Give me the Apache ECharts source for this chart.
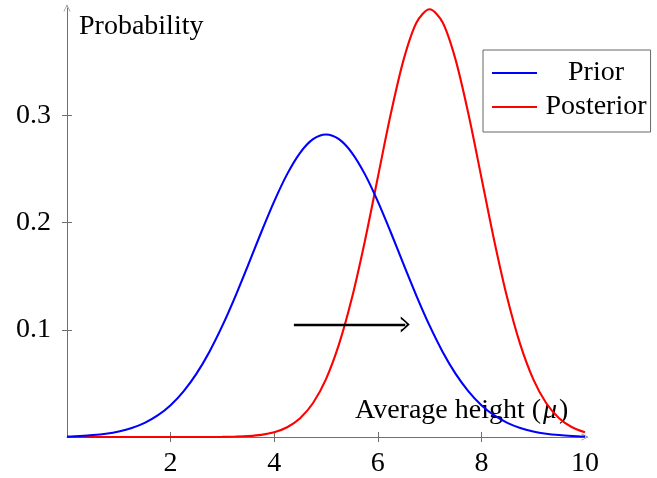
<!DOCTYPE html>
<html>
<head>
<meta charset="utf-8">
<script src="https://cdn.jsdelivr.net/npm/echarts@6/dist/echarts.min.js"></script>
<style>html,body{margin:0;padding:0;background:#fff}#c{width:657px;height:478px}</style>
</head>
<body>
<div id="c"></div>
<script>
// x positions (average height mu)
var xs = [0,0.25,0.5,0.75,1,1.25,1.5,1.75,2,2.25,2.5,2.75,3,3.25,3.5,3.75,4,4.25,4.5,4.75,5,
          5.25,5.5,5.75,6,6.25,6.5,6.75,7,7.25,7.5,7.75,8,8.25,8.5,8.75,9,9.25,9.5,9.75,10];
// Prior curve values
var prior = [0.0005,0.0010,0.0018,0.0031,0.0052,0.0084,0.0132,0.0201,0.0297,0.0426,0.0591,0.0796,0.1038,0.1312,0.1607,0.1909,0.2197,0.2451,0.2650,0.2777,0.2821,
             0.2777,0.2650,0.2451,0.2197,0.1909,0.1607,0.1312,0.1038,0.0796,0.0591,0.0426,0.0297,0.0201,0.0132,0.0084,0.0052,0.0031,0.0018,0.0010,0.0005];
// Posterior curve values
var posterior = [0,0,0,0,0,0,0,0,0,0,0,0.0000,0.0001,0.0004,0.0009,0.0020,0.0044,0.0091,0.0175,0.0317,0.0540,
                 0.0863,0.1295,0.1826,0.2420,0.3011,0.3521,0.3867,0.3989,0.3867,0.3521,0.3011,0.2420,0.1826,0.1295,0.0863,0.0540,0.0317,0.0175,0.0091,0.0044];
var seriesNames = ['Prior','Posterior'];
var xTicks = [2,4,6,8,10];
var yTicks = [0.1,0.2,0.3];
// shift arrow (start and end)
var arrowFrom = [4.38,0.105];
var arrowTo = [6.53,0.105];

function pairs(v){ return xs.map(function(x,i){ return [x, v[i]]; }); }

var FONT = 'Liberation Serif, Times New Roman, serif';
var AX = '#707070';
var chev = 'path://M0,10 C2,6 4,2 5,0 C6,2 8,6 10,10 L9,10 C8,7 6,4 5,2.2 C4,4 2,7 1,10 Z';
var chevBold = 'path://M0,10 C2,6 4,2 5,0 C6,2 8,6 10,10 L8.4,10 C7.5,7 6,4.5 5,3.2 C4,4.5 2.5,7 1.6,10 Z';

var chart = echarts.init(document.getElementById('c'), null, {renderer:'canvas'});
chart.setOption({
  animation:false,
  grid:{left:67,right:72,top:8,bottom:40},
  xAxis:[{
    type:'value',min:0,max:10,interval:2,
    axisLine:{show:true,lineStyle:{color:AX,width:1},symbol:['none',chev],symbolSize:[9,7]},
    axisTick:{show:true,length:5,lineStyle:{color:AX},customValues:[2,4,6,8]},
    axisLabel:{customValues:xTicks,margin:13,color:'#000',fontFamily:FONT,fontSize:28},
    splitLine:{show:false}
  },{
    type:'value',min:0,max:10,interval:2,position:'bottom',
    axisLine:{show:false},
    axisTick:{show:true,inside:true,length:5,lineStyle:{color:AX},customValues:[2,4,6,8]},
    axisLabel:{show:false},splitLine:{show:false}
  }],
  yAxis:[{
    type:'value',min:0,max:0.4,interval:0.1,
    axisLine:{show:true,lineStyle:{color:AX,width:1},symbol:['none',chev],symbolSize:[9,7]},
    axisTick:{show:true,length:5,lineStyle:{color:AX},customValues:[0.1,0.2,0.3]},
    axisLabel:{customValues:yTicks,margin:16,color:'#000',fontFamily:FONT,fontSize:28,
      formatter:function(v){return v.toFixed(1);}},
    splitLine:{show:false}
  },{
    type:'value',min:0,max:0.4,interval:0.1,position:'left',
    axisLine:{show:false},
    axisTick:{show:true,inside:true,length:5,lineStyle:{color:AX},customValues:[0.1,0.2,0.3]},
    axisLabel:{show:false},splitLine:{show:false}
  }],
  legend:{
    orient:'vertical',left:483,top:50,
    data:seriesNames.map(function(n){return {name:n,icon:'rect'};}),
    borderColor:'#666',borderWidth:1,borderRadius:0,
    padding:[9,4,11,9],itemGap:6,itemWidth:45,itemHeight:2,
    formatter:function(n){return '{t|'+n+'}';},
    textStyle:{rich:{t:{width:108,align:'center',fontFamily:FONT,fontSize:28,color:'#000'}}}
  },
  series:[{
    name:seriesNames[0],type:'line',data:pairs(prior),smooth:0.3,symbol:'none',
    lineStyle:{color:'#0000ff',width:2.1},itemStyle:{color:'#0000ff'},z:3
  },{
    name:seriesNames[1],type:'line',data:pairs(posterior),smooth:0.3,symbol:'none',
    lineStyle:{color:'#ff0000',width:2.1},itemStyle:{color:'#ff0000'},z:2,
    markLine:{
      silent:true,animation:false,
      symbol:['none',chevBold],symbolSize:[16,9],
      label:{show:false},
      lineStyle:{color:'#000',width:2.3,type:'solid'},
      data:[[{coord:arrowFrom},{coord:arrowTo}]]
    }
  }],
  graphic:[{
    type:'text',left:79,top:13,
    style:{text:'Probability',font:'28px '+FONT,fill:'#000'}
  },{
    type:'text',left:355,top:397,
    style:{text:'{n|Average height (}{m|μ}{n|)}',
      rich:{n:{fontFamily:FONT,fontSize:28,fill:'#000'},m:{fontFamily:FONT,fontSize:28,fontStyle:'italic',fill:'#000',padding:[0,2,0,2]}}}
  }]
});
</script>
</body>
</html>
